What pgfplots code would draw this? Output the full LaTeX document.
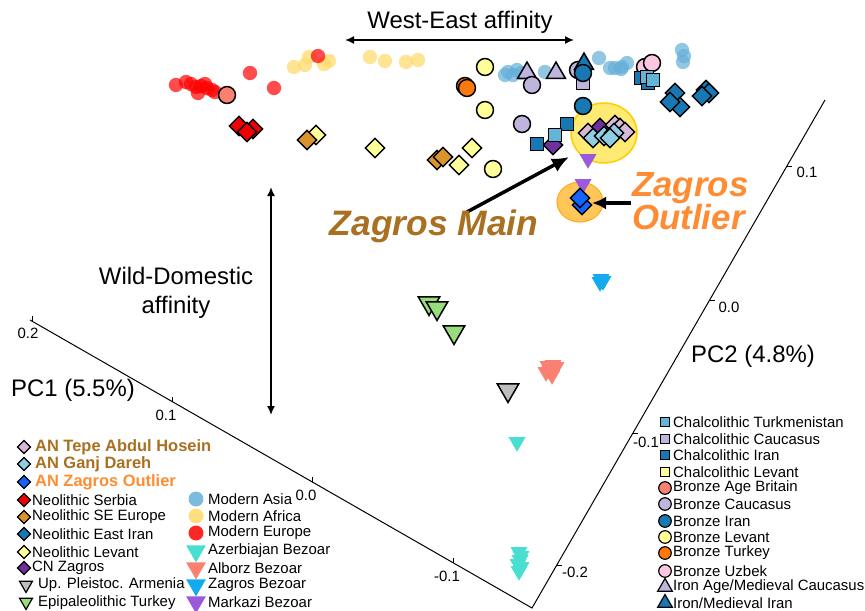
\documentclass[border=0pt]{standalone}
\usepackage{pgfplots}
\pgfplotsset{compat=1.18}
\usepackage{fontspec}
\setmainfont{Liberation Sans}
\usetikzlibrary{arrows.meta}
\definecolor{cBrown}{RGB}{168,112,32}
\definecolor{cOrangeT}{RGB}{255,140,50}
\definecolor{cAsia}{RGB}{100,175,215}
\definecolor{cAfrica}{RGB}{255,217,102}
\definecolor{cEurope}{RGB}{255,0,0}
\definecolor{cAzer}{RGB}{72,222,210}
\definecolor{cAlborz}{RGB}{250,128,114}
\definecolor{cZagB}{RGB}{20,170,240}
\definecolor{cMarkazi}{RGB}{155,90,220}
\definecolor{cSerbia}{RGB}{240,0,0}
\definecolor{cSEE}{RGB}{217,149,43}
\definecolor{cBlue}{RGB}{24,120,180}
\definecolor{cLevant}{RGB}{255,255,153}
\definecolor{cCN}{RGB}{112,48,160}
\definecolor{cGrey}{RGB}{190,190,190}
\definecolor{cGreen}{RGB}{152,220,126}
\definecolor{cTurkm}{RGB}{100,180,215}
\definecolor{cLav}{RGB}{190,180,220}
\definecolor{cSalmon}{RGB}{250,128,114}
\definecolor{cTurkey}{RGB}{255,120,10}
\definecolor{cUzbek}{RGB}{250,200,225}
\definecolor{cTepe}{RGB}{215,185,215}
\definecolor{cGanj}{RGB}{145,205,225}
\definecolor{cOut}{RGB}{20,100,255}
\pgfplotsset{
  modern/.style={only marks, color=#1, mark=*, mark size=7.2, mark options={draw opacity=0, fill=#1, fill opacity=0.7}},
  bez/.style={only marks, color=#1, mark=triangle*, mark size=9.8, mark options={rotate=180, draw opacity=0, fill=#1}},
  circ/.style={only marks, mark=*, mark size=8.5, mark options={draw=black, line width=1.5bp, fill=#1}},
  sq/.style={only marks, mark=square*, mark size=6.5, mark options={draw=black, line width=1.5bp, fill=#1}},
  dia/.style={only marks, mark=square*, mark size=6.8, mark options={rotate=45, draw=black, line width=1.5bp, fill=#1}},
  tri/.style={only marks, mark=triangle*, mark size=11, mark options={draw=black, line width=1.5bp, fill=#1}},
  dtri/.style={only marks, mark=triangle*, mark size=12.5, mark options={rotate=180, draw=black, line width=1.5bp, fill=#1}},
  ldia/.style={only marks, mark=square*, mark size=4.6, mark options={rotate=45, draw=black, line width=1.2bp, fill=#1}},
  ldtri/.style={only marks, mark=triangle*, mark size=7.5, mark options={rotate=180, draw=black, line width=1.2bp, fill=#1}},
  lmod/.style={only marks, color=#1, mark=*, mark size=7.5, mark options={draw opacity=0, fill=#1, fill opacity=0.85}},
  lbez/.style={only marks, color=#1, mark=triangle*, mark size=11.5, mark options={rotate=180, draw opacity=0, fill=#1}},
  lsq/.style={only marks, mark=square*, mark size=4.6, mark options={draw=black, line width=1.2bp, fill=#1}},
  lcirc/.style={only marks, mark=*, mark size=6.3, mark options={draw=black, line width=1.2bp, fill=#1}},
  ltri/.style={only marks, mark=triangle*, mark size=8.5, mark options={draw=black, line width=1.2bp, fill=#1}},
}
\begin{document}
\begin{tikzpicture}
\useasboundingbox (0,0) rectangle (865bp,611bp);
\begin{axis}[at={(0,0)}, anchor=south west, scale only axis, width=865bp, height=611bp,
  xmin=0, xmax=865, ymin=0, ymax=611, y dir=reverse, hide axis, clip=false]

% PC axes frame
\addplot[black, line width=1bp, no marks] coordinates {(30,320) (532,608) (825,100)};
\addplot[black, line width=0.8bp, no marks] coordinates {(32,321) (32,316)};
\addplot[black, line width=0.8bp, no marks] coordinates {(172,402) (172,397)};
\addplot[black, line width=0.8bp, no marks] coordinates {(312,482) (312,477)};
\addplot[black, line width=0.8bp, no marks] coordinates {(453,563) (453,558)};
\addplot[black, line width=0.8bp, no marks] coordinates {(557,565) (562,565)};
\addplot[black, line width=0.8bp, no marks] coordinates {(633,433) (638,433)};
\addplot[black, line width=0.8bp, no marks] coordinates {(710,300) (715,300)};
\addplot[black, line width=0.8bp, no marks] coordinates {(787,166) (792,166)};
\begin{scope}[font=\fontsize{15}{18}\selectfont]
\node at (axis cs:28,333) {0.2};
\node at (axis cs:166,415) {0.1};
\node at (axis cs:306,495) {0.0};
\node at (axis cs:447,576) {-0.1};
\node at (axis cs:807,172) {0.1};
\node at (axis cs:729,307) {0.0};
\node at (axis cs:646,442) {-0.1};
\node at (axis cs:575,572) {-0.2};
\end{scope}
\begin{scope}[font=\fontsize{24}{28}\selectfont]
\node at (axis cs:73,390) {PC1 (5.5\%)};
\node at (axis cs:753,356) {PC2 (4.8\%)};
\node at (axis cs:460,22) {West-East affinity};
\node[align=center] at (axis cs:176,293) {Wild-Domestic\\[1pt]affinity};
\end{scope}
\draw[line width=1.6bp, {Latex[length=9bp,width=8bp]}-{Latex[length=9bp,width=8bp]}] (axis cs:345,40) -- (axis cs:574,40);
\draw[line width=1.6bp, {Latex[length=9bp,width=8bp]}-{Latex[length=9bp,width=8bp]}] (axis cs:271,187) -- (axis cs:271,415);

% ellipses
\draw[fill={rgb,255:red,255;green,234;blue,115}, draw={rgb,255:red,255;green,205;blue,0}, line width=1.5bp] (axis cs:604,133) ellipse [x radius=33bp, y radius=30bp];
\draw[fill={rgb,255:red,255;green,198;blue,90}, draw={rgb,255:red,255;green,175;blue,40}, line width=1.2bp] (axis cs:580,202) ellipse [x radius=23bp, y radius=20bp];

% modern
\addplot[modern=cAsia] coordinates {(505,75) (508,72) (513,75) (517,70) (521,73) (545,72) (599,58) (610,68) (615,68) (622,67) (627,63) (621,69) (682,50) (683,62) (684,56)};
\addplot[modern=cAfrica] coordinates {(294,67) (305,65) (309,57) (324,64) (329,61) (370,57) (385,61) (406,62) (418,60)};
\addplot[modern=cEurope] coordinates {(176,85) (186,82) (191,84) (196,87) (201,86) (205,84) (207,88) (198,93) (212,90) (215,92) (250,73) (274,88) (318,56)};

% bezoar
\addplot[bez=cZagB] coordinates {(601,279) (603,281) (600,282)};
\addplot[bez=cAlborz] coordinates {(548,366) (553,365) (556,367) (550,371) (546,372) (552,375)};
\addplot[bez=cAzer] coordinates {(517,442) (519,552) (521,556) (520,560) (518,564) (521,567) (519,571)};
\addplot[bez=cMarkazi] coordinates {(588,159) (583,184)};

% triangles with edge
\addplot[dtri=cGreen] coordinates {(429,303) (437,308) (454,332)};
\addplot[dtri=cGrey] coordinates {(508,390)};

% diamonds
\addplot[dia=cSerbia] coordinates {(239,126) (253,129) (247,132)};
\addplot[dia=cLevant] coordinates {(316,135)};
\addplot[dia=cSEE] coordinates {(307,140) (437,160) (443,157)};
\addplot[dia=cLevant] coordinates {(375,148) (472,148) (459,165)};
\addplot[dia=cBlue] coordinates {(675,93) (680,107) (670,102) (706,90) (709,93) (702,96)};
\addplot[dia=cCN] coordinates {(553,145) (600,128)};

% circles
\addplot[circ=cSalmon] coordinates {(227,95)};
\addplot[circ=cLevant] coordinates {(485,67) (485,110) (493,169)};
\addplot[circ=cTurkey] coordinates {(465,86) (467,88)};
\addplot[circ=cLav] coordinates {(578,70)};
\addplot[tri=cLav] coordinates {(527,73) (556,73)};
\addplot[circ=cLav] coordinates {(532,85) (522,124)};
\addplot[sq=cLav] coordinates {(583,83)};
\addplot[tri=cBlue] coordinates {(584,64)};
\addplot[circ=cBlue] coordinates {(583,73) (583,106)};
\addplot[circ=cUzbek] coordinates {(645,67) (652,63)};
\addplot[sq=cBlue] coordinates {(641,78) (648,83) (537,144) (567,124)};
\addplot[sq=cTurkm] coordinates {(647,77) (653,80) (555,135)};

% AN
\addplot[dia=cTepe] coordinates {(588,133) (615,125) (620,128) (625,132)};
\addplot[dia=cGanj] coordinates {(593,138) (604,136) (614,133) (610,138)};
\addplot[dia=cOut] coordinates {(582,205) (580,198)};

% big labels and arrows
\draw[line width=3.5bp, -{Latex[length=17bp,width=15bp]}] (axis cs:467,212) -- (axis cs:569,157);
\draw[line width=3.5bp, -{Latex[length=14bp,width=13bp]}] (axis cs:631,203) -- (axis cs:592,203);
\node[text=cBrown, font=\bfseries\itshape\fontsize{35.5}{40}\selectfont] at (axis cs:434,226) {Zagros Main};
\node[text=cOrangeT, font=\bfseries\itshape\fontsize{35}{33}\selectfont, align=left, anchor=west, inner sep=0] at (axis cs:632,201) {Zagros\\Outlier};

% left legend
\addplot[ldia=cTepe] coordinates {(24,447)};
\addplot[ldia=cGanj] coordinates {(24,464)};
\addplot[ldia=cOut] coordinates {(24,482)};
\addplot[ldia=cSerbia] coordinates {(24,500)};
\addplot[ldia=cSEE] coordinates {(24,517)};
\addplot[ldia=cBlue] coordinates {(24,534)};
\addplot[ldia=cLevant] coordinates {(24,552)};
\addplot[ldia=cCN] coordinates {(24,568)};
\addplot[ldtri=cGrey] coordinates {(26,585)};
\addplot[ldtri=cGreen] coordinates {(26,602)};
\begin{scope}[font=\bfseries\fontsize{16.5}{19}\selectfont]
\node[anchor=west, inner sep=0, text=cBrown] at (axis cs:35,447) {AN Tepe Abdul Hosein};
\node[anchor=west, inner sep=0, text=cBrown] at (axis cs:35,464) {AN Ganj Dareh};
\node[anchor=west, inner sep=0, text=cOrangeT] at (axis cs:35,482) {AN Zagros Outlier};
\end{scope}
\begin{scope}[font=\fontsize{15}{18}\selectfont]
\node[anchor=west, inner sep=0] at (axis cs:32,500) {Neolithic Serbia};
\node[anchor=west, inner sep=0] at (axis cs:32,517) {Neolithic SE Europe};
\node[anchor=west, inner sep=0] at (axis cs:32,534) {Neolithic East Iran};
\node[anchor=west, inner sep=0] at (axis cs:32,552) {Neolithic Levant};
\node[anchor=west, inner sep=0] at (axis cs:32,568) {CN Zagros};
\node[anchor=west, inner sep=0] at (axis cs:38,585) {Up. Pleistoc. Armenia};
\node[anchor=west, inner sep=0] at (axis cs:38,603) {Epipaleolithic Turkey};
\end{scope}
% middle legend
\addplot[lmod=cAsia] coordinates {(196,499)};
\addplot[lmod=cAfrica] coordinates {(196,516)};
\addplot[lmod=cEurope] coordinates {(196,533)};
\addplot[lbez=cAzer] coordinates {(196,551)};
\addplot[lbez=cAlborz] coordinates {(196,568)};
\addplot[lbez=cZagB] coordinates {(196,585)};
\addplot[lbez=cMarkazi] coordinates {(196,602)};
\begin{scope}[font=\fontsize{15}{18}\selectfont]
\node[anchor=west, inner sep=0] at (axis cs:208,499) {Modern Asia};
\node[anchor=west, inner sep=0] at (axis cs:208,516) {Modern Africa};
\node[anchor=west, inner sep=0] at (axis cs:208,533) {Modern Europe};
\node[anchor=west, inner sep=0] at (axis cs:208,551) {Azerbiajan Bezoar};
\node[anchor=west, inner sep=0] at (axis cs:208,568) {Alborz Bezoar};
\node[anchor=west, inner sep=0] at (axis cs:208,585) {Zagros Bezoar};
\node[anchor=west, inner sep=0] at (axis cs:208,602) {Markazi Bezoar};
\end{scope}
% right legend
\addplot[lsq=cTurkm] coordinates {(665,422)};
\addplot[lsq=cLav] coordinates {(665,439)};
\addplot[lsq=cBlue] coordinates {(665,455)};
\addplot[lsq=cLevant] coordinates {(665,472)};
\addplot[lcirc=cSalmon] coordinates {(665,488)};
\addplot[lcirc=cLav] coordinates {(665,504)};
\addplot[lcirc=cBlue] coordinates {(665,521)};
\addplot[lcirc=cLevant] coordinates {(665,537)};
\addplot[lcirc=cTurkey] coordinates {(665,553)};
\addplot[lcirc=cUzbek] coordinates {(665,571)};
\addplot[ltri=cLav] coordinates {(665,587)};
\addplot[ltri=cBlue] coordinates {(665,603)};
\begin{scope}[font=\fontsize{15}{18}\selectfont]
\node[anchor=west, inner sep=0] at (axis cs:673,422) {Chalcolithic Turkmenistan};
\node[anchor=west, inner sep=0] at (axis cs:673,439) {Chalcolithic Caucasus};
\node[anchor=west, inner sep=0] at (axis cs:673,455) {Chalcolithic Iran};
\node[anchor=west, inner sep=0] at (axis cs:673,472) {Chalcolithic Levant};
\node[anchor=west, inner sep=0] at (axis cs:673,488) {Bronze Age Britain};
\node[anchor=west, inner sep=0] at (axis cs:673,504) {Bronze Caucasus};
\node[anchor=west, inner sep=0] at (axis cs:673,521) {Bronze Iran};
\node[anchor=west, inner sep=0] at (axis cs:673,537) {Bronze Levant};
\node[anchor=west, inner sep=0] at (axis cs:673,553) {Bronze Turkey};
\node[anchor=west, inner sep=0] at (axis cs:673,571) {Bronze Uzbek};
\node[anchor=west, inner sep=0] at (axis cs:673,587) {Iron Age/Medieval Caucasus};
\node[anchor=west, inner sep=0] at (axis cs:673,603) {Iron/Medieval Iran};
\end{scope}
\end{axis}
\end{tikzpicture}
\end{document}
